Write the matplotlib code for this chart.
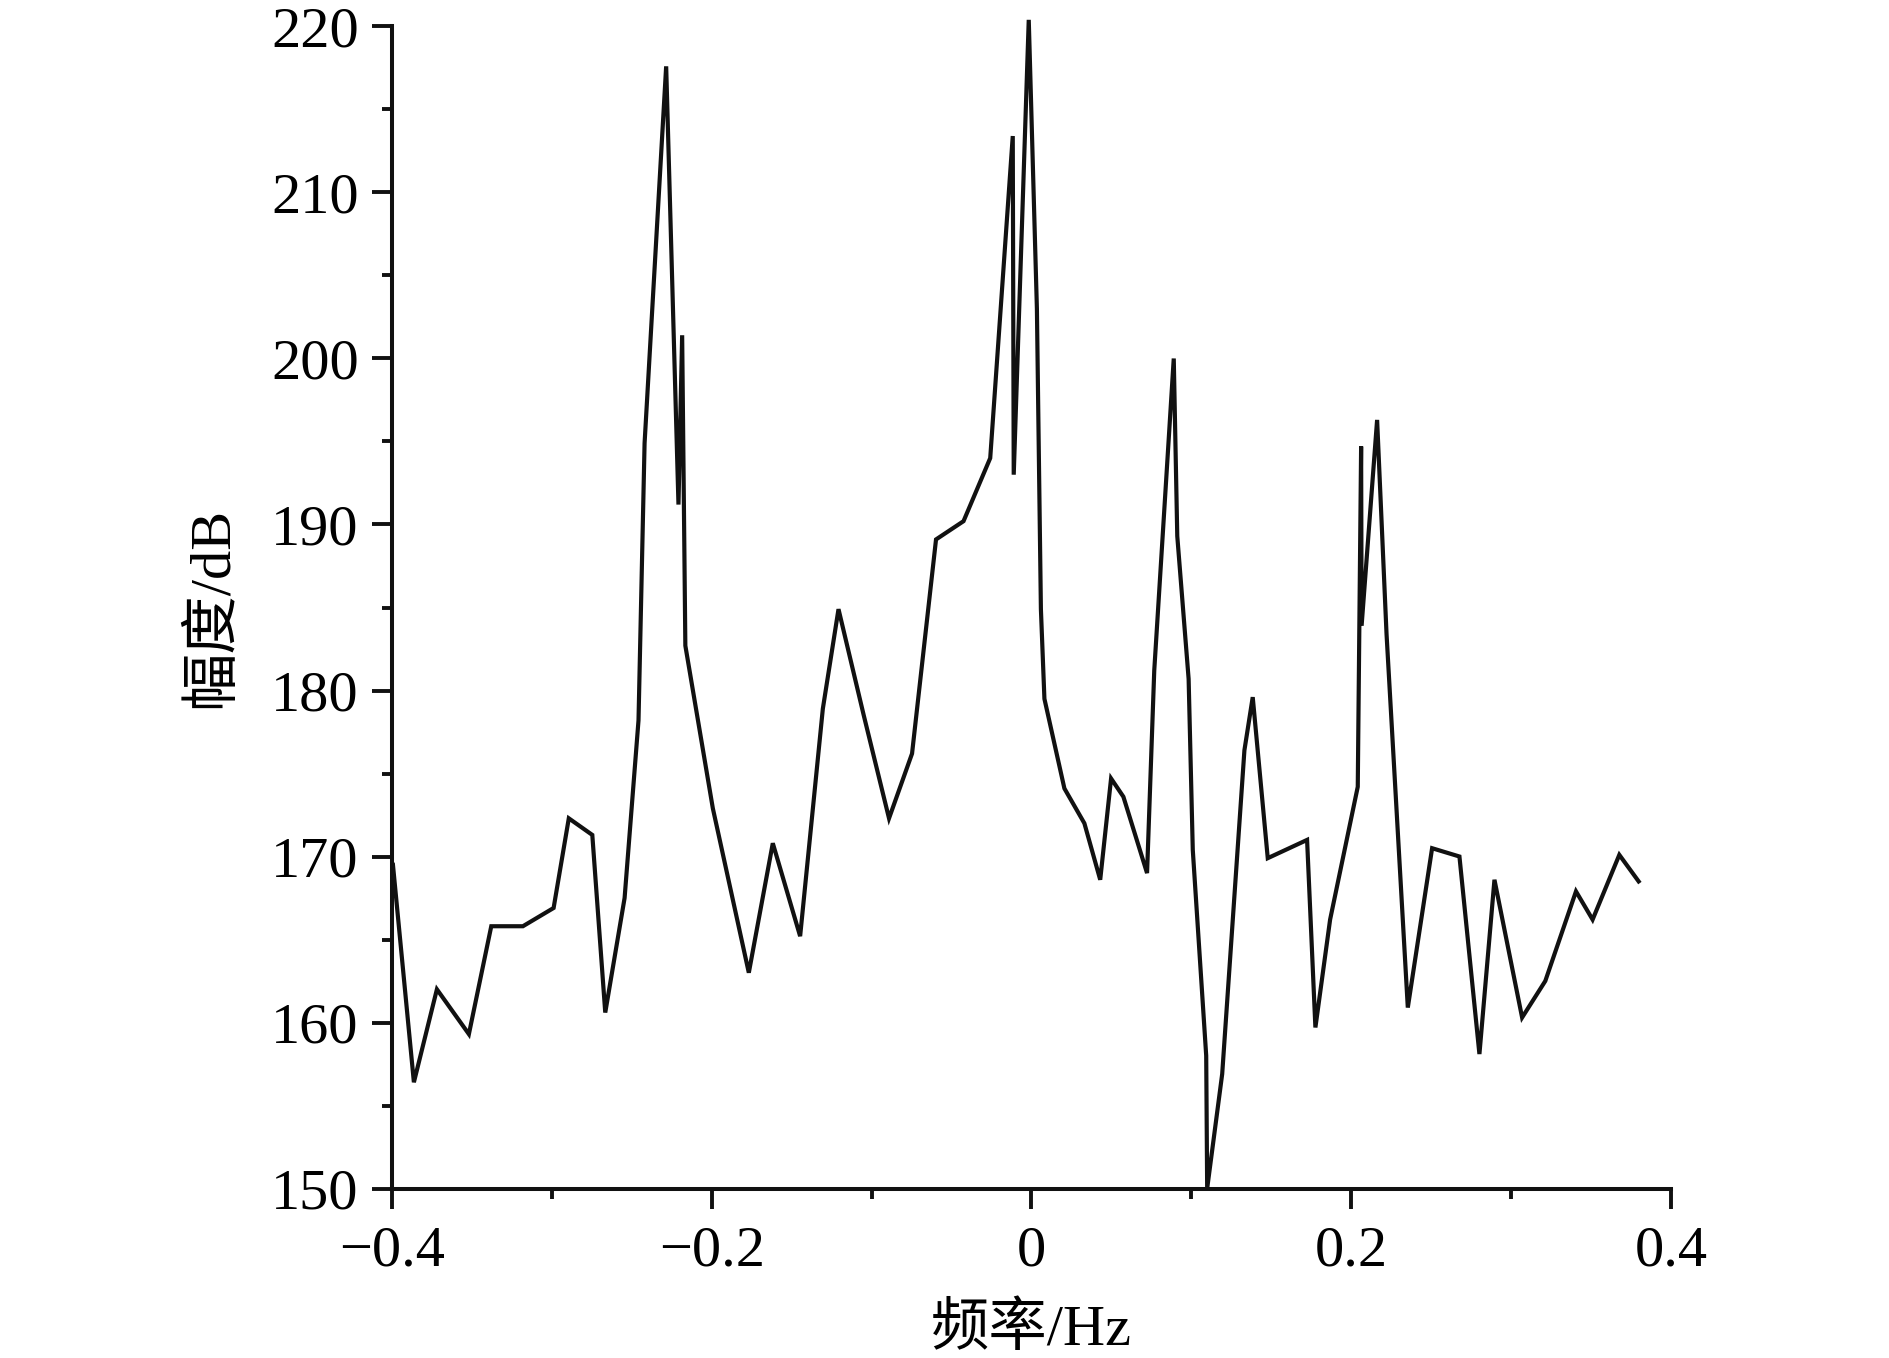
import matplotlib
matplotlib.use('Agg')
import matplotlib.pyplot as plt
from matplotlib.ticker import MultipleLocator

# spectrum
freq = [-0.3994, -0.3863, -0.3719, -0.3519, -0.3379, -0.3181, -0.2989, -0.2894,
        -0.2747, -0.2666, -0.2545, -0.2458, -0.2420, -0.2285, -0.2208, -0.2185,
        -0.2165, -0.1993, -0.1768, -0.1618, -0.1447, -0.1305, -0.1207, -0.1049,
        -0.0891, -0.0747, -0.0597, -0.0425, -0.0258, -0.0117, -0.0111, -0.0017,
        0.0034, 0.0059, 0.0081, 0.0206, 0.0331, 0.0430, 0.0498, 0.0575,
        0.0723, 0.0768, 0.0890, 0.0912, 0.0983, 0.1009, 0.1093, 0.1099,
        0.1193, 0.1332, 0.1384, 0.1478, 0.1724, 0.1776, 0.1868, 0.2041,
        0.2062, 0.2065, 0.2162, 0.2221, 0.2354, 0.2506, 0.2677, 0.2802,
        0.2896, 0.3069, 0.3214, 0.3406, 0.3510, 0.3677, 0.3798]
amp = [169.5, 156.4, 162.0, 159.3, 165.8, 165.8, 166.9, 172.3,
       171.3, 160.6, 167.5, 178.2, 194.9, 217.6, 191.2, 201.4,
       182.7, 172.9, 163.0, 170.8, 165.2, 178.9, 184.9, 178.5,
       172.3, 176.2, 189.1, 190.2, 194.0, 213.4, 193.0, 220.4,
       203.0, 184.9, 179.5, 174.1, 172.0, 168.6, 174.7, 173.6,
       169.0, 181.2, 200.0, 189.3, 180.7, 170.4, 158.0, 150.0,
       156.9, 176.4, 179.6, 169.9, 171.0, 159.7, 166.2, 174.2,
       194.7, 183.9, 196.3, 183.4, 160.9, 170.5, 170.0, 158.1,
       168.6, 160.3, 162.5, 167.9, 166.2, 170.1, 168.5]

xticks = [-0.4, -0.2, 0.0, 0.2, 0.4]
xtick_labels = ['\u22120.4', '\u22120.2', '0', '0.2', '0.4']
yticks = [150, 160, 170, 180, 190, 200, 210, 220]

plt.rcParams['font.family'] = ['Liberation Serif', 'Noto Sans CJK SC']
plt.rcParams['font.size'] = 42

fig = plt.figure(figsize=(18.9, 13.58), dpi=100)
ax = fig.add_axes([0.2074, 0.1248, 0.6767, 0.8557])

ax.plot(freq, amp, color='#111111', linewidth=3.0, clip_on=False,
        solid_joinstyle='miter')

ax.set_xlim(-0.4, 0.4)
ax.set_ylim(150, 220)
ax.set_xticks(xticks)
ax.set_xticklabels(xtick_labels)
ax.set_yticks(yticks)
ax.xaxis.set_minor_locator(MultipleLocator(0.1))
ax.yaxis.set_minor_locator(MultipleLocator(5))

for side in ['top', 'right']:
    ax.spines[side].set_visible(False)
for side in ['left', 'bottom']:
    ax.spines[side].set_linewidth(2.9)
    ax.spines[side].set_color('#111111')

ax.tick_params(which='major', direction='out', length=14.4, width=2.8,
               color='#111111')
ax.tick_params(which='minor', direction='out', length=7.2, width=2.8,
               color='#111111')
ax.tick_params(axis='x', which='major', pad=12)
ax.tick_params(axis='y', which='major', pad=9.5)

ax.set_xlabel('频率/Hz', labelpad=18)
ax.set_ylabel('幅度/dB', labelpad=23)

fig.savefig('out.png', dpi=100, facecolor='white')
